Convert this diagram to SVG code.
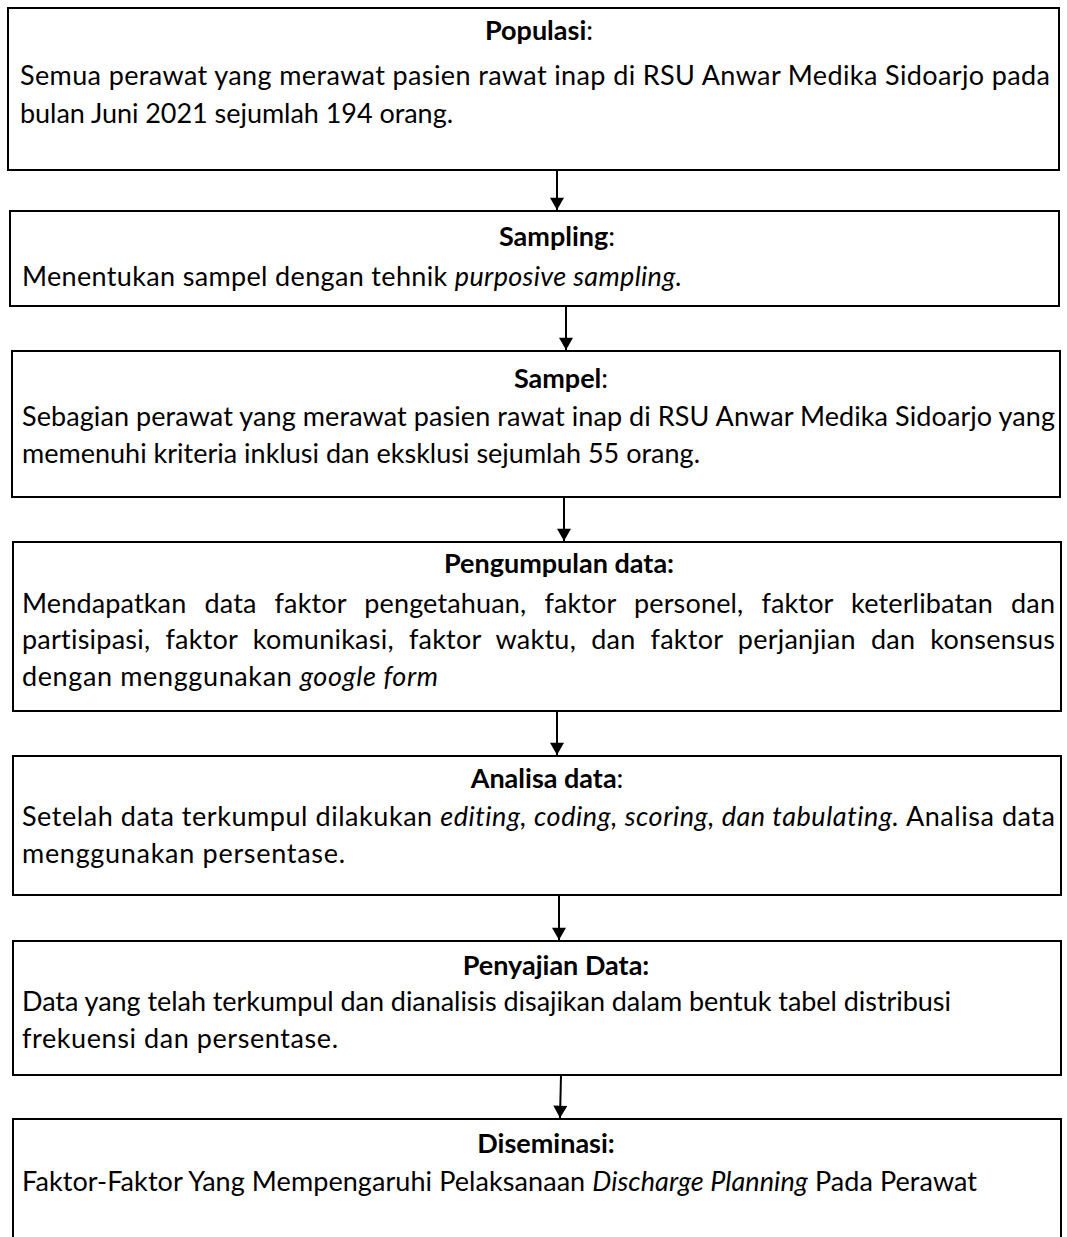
<svg xmlns="http://www.w3.org/2000/svg" width="1067" height="1237" viewBox="0 0 1067 1237">
<style>
.box{fill:#fff;stroke:#000;stroke-width:2}
.t{font-family:Lato,"Open Sans","Liberation Sans",sans-serif;font-size:27px;fill:#000;font-variant-ligatures:none}
.h{font-weight:bold;text-anchor:middle}
.i{font-style:italic}
.conn line{stroke:#000;stroke-width:2}
</style>
<defs>
<marker id="ah" viewBox="0 0 14 16" refX="14" refY="8" markerWidth="16" markerHeight="14" markerUnits="userSpaceOnUse" orient="auto">
<path d="M0,0 L14,8 L0,16 z" fill="#000"/>
</marker>
</defs>
<rect width="1067" height="1237" fill="#fff"/>
<g id="conns" class="conn">
<line x1="557" y1="170" x2="557" y2="210" marker-end="url(#ah)"/>
<line x1="566" y1="306" x2="566" y2="350" marker-end="url(#ah)"/>
<line x1="564" y1="497" x2="564" y2="541" marker-end="url(#ah)"/>
<line x1="557" y1="711" x2="557" y2="755" marker-end="url(#ah)"/>
<line x1="559" y1="895" x2="559" y2="940" marker-end="url(#ah)"/>
<line x1="561" y1="1075" x2="560" y2="1118" marker-end="url(#ah)"/>
</g>
<g id="populasi">
<rect class="box" x="8" y="8" width="1051" height="162"/>
<text class="t h" x="539" y="40">Populasi<tspan font-weight="normal">:</tspan></text>
<text class="t" x="20" y="85" textLength="1030" lengthAdjust="spacing">Semua perawat yang merawat pasien rawat inap di RSU Anwar Medika Sidoarjo pada</text>
<text class="t" x="20" y="123" textLength="433" lengthAdjust="spacing">bulan Juni 2021 sejumlah 194 orang.</text>
</g>
<g id="sampling">
<rect class="box" x="10" y="211" width="1049" height="95"/>
<text class="t h" x="557" y="246">Sampling<tspan font-weight="normal">:</tspan></text>
<text class="t" x="22" y="286" textLength="660" lengthAdjust="spacing">Menentukan sampel dengan tehnik <tspan class="i">purposive sampling.</tspan></text>
</g>
<g id="sampel">
<rect class="box" x="12" y="351" width="1048" height="146"/>
<text class="t h" x="561" y="388">Sampel<tspan font-weight="normal">:</tspan></text>
<text class="t" x="22" y="426" textLength="1033" lengthAdjust="spacing">Sebagian perawat yang merawat pasien rawat inap di RSU Anwar Medika Sidoarjo yang</text>
<text class="t" x="22" y="463" textLength="678" lengthAdjust="spacing">memenuhi kriteria inklusi dan eksklusi sejumlah 55 orang.</text>
</g>
<g id="pengumpulan">
<rect class="box" x="13" y="542" width="1048" height="169"/>
<text class="t h" x="559" y="573">Pengumpulan data:</text>
<text class="t" x="22" y="613" word-spacing="11" textLength="1033" lengthAdjust="spacing">Mendapatkan data faktor pengetahuan, faktor personel, faktor keterlibatan dan</text>
<text class="t" x="22" y="649" word-spacing="8" textLength="1033" lengthAdjust="spacing">partisipasi, faktor komunikasi, faktor waktu, dan faktor perjanjian dan konsensus</text>
<text class="t" x="22" y="686" textLength="416" lengthAdjust="spacing">dengan menggunakan <tspan class="i">google form</tspan></text>
</g>
<g id="analisa">
<rect class="box" x="13" y="756" width="1048" height="139"/>
<text class="t h" x="547" y="788">Analisa data<tspan font-weight="normal">:</tspan></text>
<text class="t" x="22" y="826" textLength="1033" lengthAdjust="spacing">Setelah data terkumpul dilakukan <tspan class="i">editing, coding, scoring, dan tabulating.</tspan> Analisa data</text>
<text class="t" x="22" y="863" textLength="323" lengthAdjust="spacing">menggunakan persentase.</text>
</g>
<g id="penyajian">
<rect class="box" x="13" y="941" width="1048" height="134"/>
<text class="t h" x="556" y="975">Penyajian Data:</text>
<text class="t" x="22" y="1011" textLength="929" lengthAdjust="spacing">Data yang telah terkumpul dan dianalisis disajikan dalam bentuk tabel distribusi</text>
<text class="t" x="22" y="1048" textLength="316" lengthAdjust="spacing">frekuensi dan persentase.</text>
</g>
<g id="diseminasi">
<rect class="box" x="13" y="1119" width="1048" height="140"/>
<text class="t h" x="546" y="1153">Diseminasi:</text>
<text class="t" x="22" y="1191" textLength="955" lengthAdjust="spacing">Faktor-Faktor Yang Mempengaruhi Pelaksanaan <tspan class="i">Discharge Planning</tspan> Pada Perawat</text>
</g>
</svg>
